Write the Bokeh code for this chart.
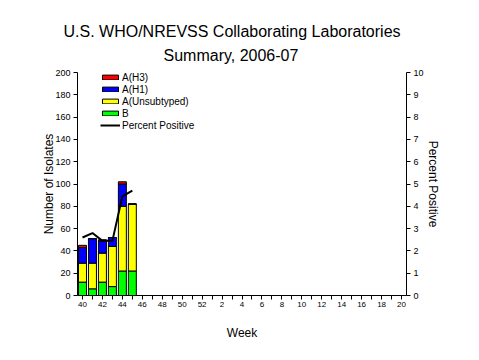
from bokeh.plotting import figure
from bokeh.models import (Range1d, LinearAxis, FixedTicker, Legend, LegendItem,
                          Title, ColumnDataSource)
from bokeh.embed import file_html
from bokeh.resources import INLINE

# ---- data ----
week_labels = [str(w) for w in list(range(40, 53)) + list(range(1, 21))]
data_weeks = ["40", "41", "42", "43", "44", "45"]
b_vals = [12, 6, 12, 8, 22, 22]
unsub_vals = [17, 23, 26, 36, 58, 60]
h1_vals = [14, 22, 11, 8, 20, 0]
h3_vals = [2, 0, 1, 0, 2, 0]
pct_positive = [2.6, 2.8, 2.45, 2.45, 4.45, 4.7]

left_ticks = [0, 20, 40, 60, 80, 100, 120, 140, 160, 180, 200]
right_ticks = [0, 1, 2, 3, 4, 5, 6, 7, 8, 9, 10]

FONT = "Liberation Sans"

xs = [week_labels.index(w) for w in data_weeks]
src = ColumnDataSource(dict(x=xs, b=b_vals, unsub=unsub_vals, h1=h1_vals,
                            h3=h3_vals, pct=pct_positive))

p = figure(width=463, height=344, x_range=Range1d(-0.5, len(week_labels) - 0.5),
           y_range=Range1d(0, 200), output_backend="svg", toolbar_location=None,
           min_border_left=77, min_border_right=57, min_border_top=72,
           min_border_bottom=49)
p.extra_y_ranges = {"pct": Range1d(0, 10)}

p.outline_line_color = None
p.xgrid.grid_line_color = None
p.ygrid.grid_line_color = None
p.background_fill_color = "white"
p.border_fill_color = "white"

colors = ["#00FF00", "#FFFF00", "#0000FF", "#FF0000"]
rs = p.vbar_stack(["b", "unsub", "h1", "h3"], x="x", width=0.8, color=colors,
                  line_color="black", line_width=1, source=src)
ln = p.line("x", "pct", source=src, y_range_name="pct", line_color="black",
            line_width=2)


def style_axis(ax, label, label_standoff, tick_size, tick_standoff):
    ax.axis_label = label
    ax.axis_label_text_font = FONT
    ax.axis_label_text_font_size = "12px"
    ax.axis_label_text_font_style = "normal"
    ax.axis_label_text_color = "black"
    ax.axis_label_standoff = label_standoff
    ax.major_label_text_font = FONT
    ax.major_label_text_font_size = tick_size
    ax.major_label_text_color = "black"
    ax.major_label_standoff = tick_standoff
    ax.minor_tick_line_color = None
    ax.major_tick_in = 0
    ax.major_tick_out = 4
    ax.axis_line_color = "black"
    ax.major_tick_line_color = "black"


# axes
xa = p.xaxis[0]
xa.ticker = FixedTicker(ticks=list(range(len(week_labels))))
xa.major_label_overrides = {i: (lab if i % 2 == 0 else "")
                            for i, lab in enumerate(week_labels)}
style_axis(xa, "Week", 16, "8px", 2)

ya = p.yaxis[0]
ya.ticker = FixedTicker(ticks=left_ticks)
style_axis(ya, "Number of Isolates", -4, "9px", 3)

ra = LinearAxis(y_range_name="pct", ticker=FixedTicker(ticks=right_ticks))
style_axis(ra, "Percent Positive", -1, "9px", 3)
p.add_layout(ra, "right")

# titles (first added sits closest to the plot)
p.add_layout(Title(text="Summary, 2006-07", align="left", offset=86,
                   text_font=FONT, text_font_size="16px", text_color="black",
                   text_font_style="normal", standoff=18), "above")
p.add_layout(Title(text="U.S. WHO/NREVSS Collaborating Laboratories",
                   align="left", offset=-14, text_font=FONT,
                   text_font_size="16px", text_font_style="normal",
                   text_color="black", standoff=-8), "above")

legend = Legend(items=[
    LegendItem(label="A(H3)", renderers=[rs[3]]),
    LegendItem(label="A(H1)", renderers=[rs[2]]),
    LegendItem(label="A(Unsubtyped)", renderers=[rs[1]]),
    LegendItem(label="B", renderers=[rs[0]]),
    LegendItem(label="Percent Positive", renderers=[ln]),
], location=(23, 164), padding=0, margin=0, spacing=0,
    glyph_width=20, glyph_height=6, label_height=12, label_standoff=2,
    label_text_font=FONT, label_text_font_size="10px", label_text_color="black",
    border_line_alpha=0, background_fill_alpha=0)
p.add_layout(legend, "center")

open("out.html", "w").write(file_html(p, INLINE))
